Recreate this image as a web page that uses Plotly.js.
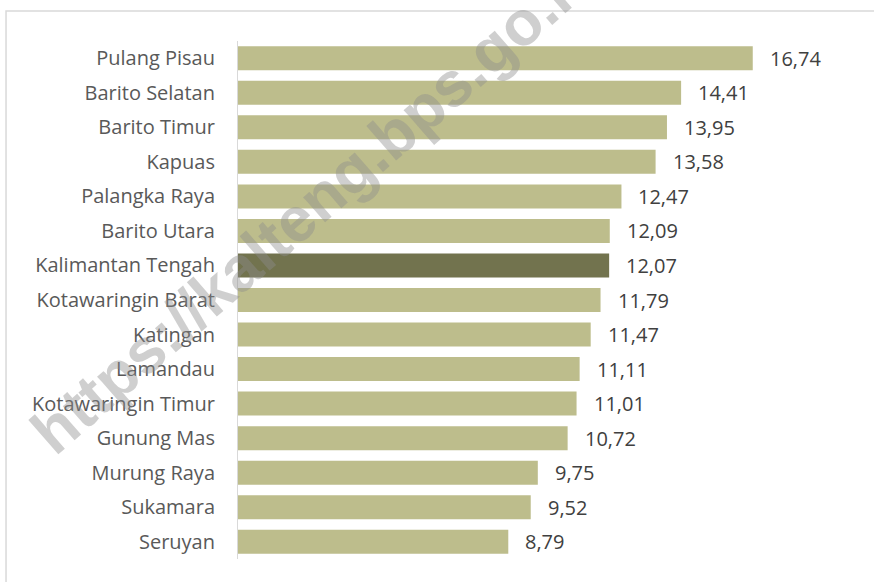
<!DOCTYPE html>
<html>
<head>
<meta charset="utf-8">
<script src="https://cdn.plot.ly/plotly-3.0.1.min.js"></script>
<style>html,body{margin:0;padding:0;background:#fff;}#chart{width:874px;height:582px;}</style>
</head>
<body>
<div id="chart"></div>
<script>
const categories = ["Pulang Pisau","Barito Selatan","Barito Timur","Kapuas","Palangka Raya","Barito Utara","Kalimantan Tengah","Kotawaringin Barat","Katingan","Lamandau","Kotawaringin Timur","Gunung Mas","Murung Raya","Sukamara","Seruyan"];
const values = [16.74,14.41,13.95,13.58,12.47,12.09,12.07,11.79,11.47,11.11,11.01,10.72,9.75,9.52,8.79];
const highlight = "Kalimantan Tengah";

const colors = categories.map(c => c === highlight ? "#72734E" : "#BDBD8C");
const fmt = v => v.toFixed(2).replace(".", ",");
const FONT = "'Open Sans', Lato, sans-serif";

const trace = {
  type: "bar",
  orientation: "h",
  y: categories,
  x: values,
  marker: {color: colors, line: {width: 0}},
  hoverinfo: "none"
};

const annotations = categories.map((c, i) => ({
  x: values[i], y: c, xref: "x", yref: "y",
  text: fmt(values[i]), showarrow: false,
  xanchor: "left", yanchor: "middle", xshift: 15,
  font: {family: FONT, size: 20, color: "#404040"}
}));

annotations.push({
  xref: "paper", yref: "paper", x: 0.125, y: 0.69,
  text: "<b>https://kalteng.bps.go.id</b>", showarrow: false,
  textangle: -41, xanchor: "center", yanchor: "middle",
  font: {family: "'Liberation Sans', Arial, sans-serif", size: 63, color: "rgba(140,140,140,0.42)"}
});

const layout = {
  width: 874, height: 582,
  margin: {l: 238, r: 21, t: 41, b: 23},
  paper_bgcolor: "#ffffff", plot_bgcolor: "#ffffff",
  showlegend: false,
  bargap: 0.305,
  xaxis: {range: [0, 20], showgrid: false, zeroline: false, showline: false, showticklabels: false, ticks: "", fixedrange: true},
  yaxis: {
    type: "category", autorange: "reversed",
    showgrid: false, zeroline: false,
    showline: true, linecolor: "#d9d9d9", linewidth: 1,
    ticks: "", ticklabelstandoff: 18,
    tickfont: {family: FONT, size: 20, color: "#595959"}
  },
  shapes: [{
    type: "rect", xref: "paper", yref: "paper",
    x0: -0.3772, x1: 1.2, y0: -0.2, y1: 1.058,
    line: {color: "#d9d9d9", width: 1.5}, fillcolor: "rgba(0,0,0,0)", layer: "below"
  }],
  annotations: annotations
};

Plotly.newPlot("chart", [trace], layout, {displayModeBar: false, staticPlot: true});
</script>
</body>
</html>
